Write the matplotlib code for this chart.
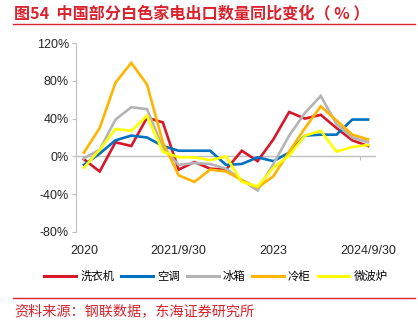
import matplotlib.pyplot as plt
from matplotlib.lines import Line2D

# quarterly points, 2020Q1 .. 2024Q3
n_points = 19
tick_pos = [0, 6, 12, 18]
tick_labels = ["2020", "2021/9/30", "2023", "2024/9/30"]

washer = [-3, -16, 15, 11, 41, 36, -14, -6, -13, -14, 6, -5, 18, 47, 40, 44, 30, 17, 11]
aircon = [-9, 3, 17, 22, 20, 11, 6, 6, 6, -9, -8, -1, -5, 4, 22, 23, 23, 39, 39]
fridge = [-2, 7, 39, 52, 50, 9, -9, -7, -8, -13, -25, -36, -8, 22, 46, 64, 34, 20, 15]
freezer = [4, 30, 78, 99, 76, 15, -20, -27, -14, -16, -25, -33, -21, 5, 30, 53, 38, 23, 18]
microwave = [-12, 7, 29, 27, 43, 5, -1, -1, -4, 0, -27, -32, -12, 1, 22, 27, 5, 10, 12]

names = ["洗衣机", "空调", "冰箱", "冷柜", "微波炉"]
colors = ["#D7182A", "#0070C0", "#B4B4B4", "#FFB400", "#FFFF00"]
series = [washer, aircon, fridge, freezer, microwave]

cjk = ["Noto Sans CJK SC", "DejaVu Sans"]
num_font = "Liberation Sans"
red = "#D9232E"

fig = plt.figure(figsize=(4.18, 3.29), dpi=100)
W, H = 418, 329
ax = fig.add_axes([76 / W, 1 - 232 / H, 300 / W, 189 / H])

x = list(range(n_points))
# draw back to front so the red line ends up on top
order = [2, 3, 1, 4, 0]
for k in order:
    ax.plot(x, series[k], color=colors[k], lw=1.9, solid_joinstyle="miter", zorder=3 + k)

ymin, ymax = -80, 120
ax.set_ylim(ymin, ymax)
ax.set_xlim(-0.5, n_points - 0.5)
ax.set_yticks(range(-80, 121, 40))
ax.set_yticklabels([f"{v}%" for v in range(-80, 121, 40)], fontfamily=num_font,
                   fontsize=9, color="#262626")
ax.axhline(0, color="#BFBFBF", lw=1, zorder=2)

for s in ["top", "right", "bottom"]:
    ax.spines[s].set_visible(False)
ax.spines["left"].set_color("#BFBFBF")
ax.tick_params(axis="y", length=3, color="#BFBFBF", pad=2)

ax.set_xticks(tick_pos)
ax.set_xticklabels(tick_labels, fontfamily=num_font, fontsize=9, color="#262626")
ax.tick_params(axis="x", length=0, pad=9)

# small boundary ticks on the zero line
zero_frac = (0 - ymin) / (ymax - ymin)
sec = ax.secondary_xaxis(zero_frac)
sec.spines["bottom"].set_visible(False)
sec.set_xticks([5.5, 11.5, 17.5])
sec.set_xticklabels([])
sec.tick_params(axis="x", length=3, color="#BFBFBF", direction="out")

handles = [Line2D([], [], color=c, lw=2.2) for c in colors]
fig.legend(handles, names, loc="center", bbox_to_anchor=(216 / W, 1 - 276 / H), ncol=5,
           frameon=False, prop={"family": cjk, "size": 8.2}, handlelength=2.8,
           handletextpad=0.35, columnspacing=0.6)

# header and footer
fig.text(14 / W, 1 - 13 / H, "图54  中国部分白色家电出口数量同比变化（ % ）", color=red,
         fontsize=11.6, fontweight="bold", family=cjk, va="center", ha="left")
fig.add_artist(Line2D([13 / W, 415 / W], [1 - 24 / H, 1 - 24 / H], color=red, lw=1))
fig.add_artist(Line2D([13 / W, 415 / W], [1 - 298 / H, 1 - 298 / H], color=red, lw=1))
fig.text(14 / W, 1 - 311 / H, "资料来源：钢联数据，东海证券研究所", color=red,
         fontsize=10.2, family=cjk, va="center", ha="left")

fig.savefig("out.png", dpi=100)
